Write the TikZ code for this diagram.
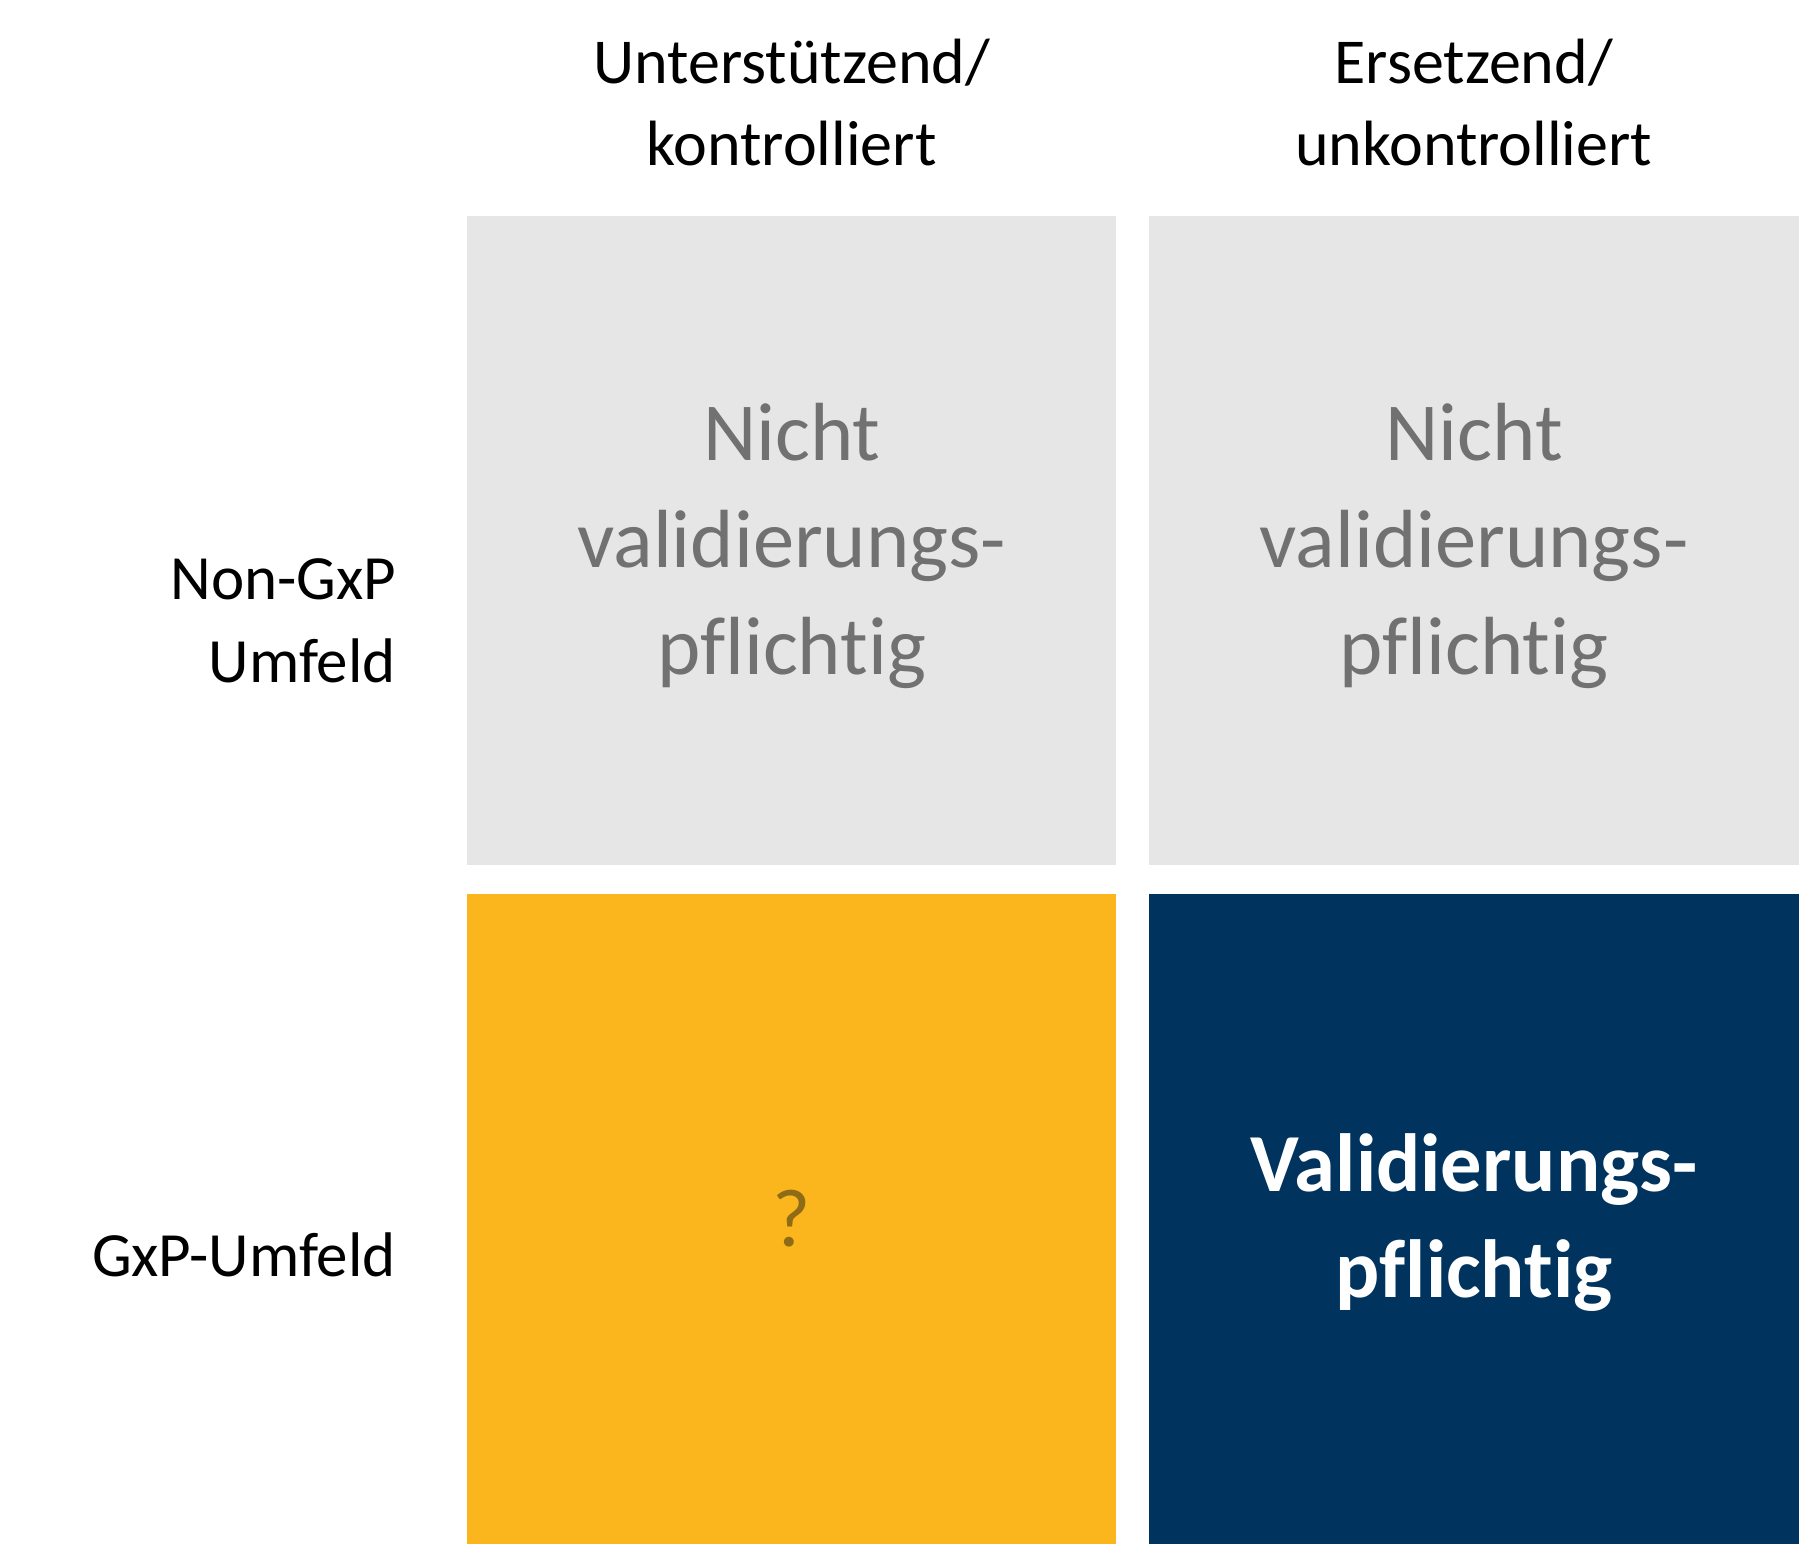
\documentclass[tikz,border=0pt]{standalone}
\usepackage{fontspec}
\setmainfont{Carlito}[Ligatures={NoCommon}]
\definecolor{cellgray}{HTML}{E7E6E6}
\definecolor{textgray}{HTML}{717171}
\definecolor{cellyellow}{HTML}{FBB61D}
\definecolor{qmark}{HTML}{8E6B16}
\definecolor{cellnavy}{HTML}{00345E}
\tikzset{
  cell/.style={anchor=north west, minimum width=649pt, minimum height=649pt, inner sep=0pt},
  head/.style={align=center, inner sep=0pt, font=\fontsize{64}{82}\selectfont},
  side/.style={align=right, anchor=east, inner sep=0pt, font=\fontsize{63}{83}\selectfont},
  big/.style={align=center, inner sep=0pt, font=\fontsize{82.5}{107}\selectfont}
}
\begin{document}
\begin{tikzpicture}[x=1pt, y=-1pt]
        % Setup the structure
        \useasboundingbox (0,0) rectangle (1799,1543);

        % Column heads
        \node[head] (hsupport) at (791.7,103) {Unterstützend/\\kontrolliert};
        \node[head] (hreplace) at (1473.7,103) {Ersetzend/\\unkontrolliert};

        % Row heads
        \node[side] (rnongxp) at (396,621) {Non-GxP\\Umfeld};
        \node[side] (rgxp) at (396,1255) {GxP-Umfeld};

        % The four cells
        \node[cell, fill=cellgray] (c11) at (467,215.7) {};
        \node[cell, fill=cellgray, minimum width=651pt] (c12) at (1148.4,215.7) {};
        \node[cell, fill=cellyellow, minimum height=650pt] (c21) at (467,893.7) {};
        \node[cell, fill=cellnavy, minimum width=651pt, minimum height=650pt] (c22) at (1148.4,893.7) {};

        % Cell texts
        \node[big, text=textgray] (t11) at ([yshift=-6pt]c11.center) {Nicht\\validierungs-\\pflichtig};
        \node[big, text=textgray] (t12) at ([yshift=-6pt]c12.center) {Nicht\\validierungs-\\pflichtig};
        \node[big, text=qmark] (t21) at (c21.center) {?};
        \node[big, text=white, font=\fontsize{82.5}{106}\selectfont\bfseries] (t22) at ([yshift=-4pt]c22.center) {Validierungs-\\pflichtig};

\end{tikzpicture}
\end{document}
